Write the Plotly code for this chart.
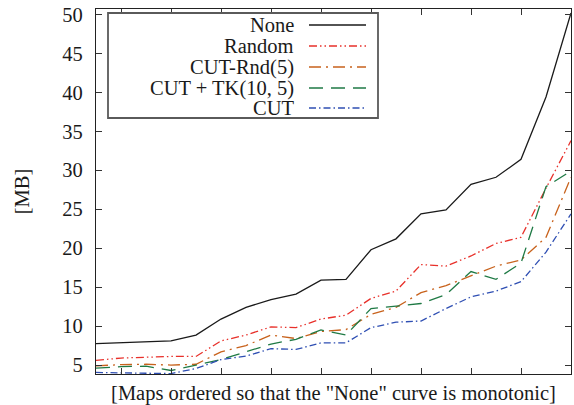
import plotly.graph_objects as go

maps = list(range(1, 21))
none_mb = [7.75, 7.85, 7.95, 8.1, 8.85, 10.9, 12.4, 13.4, 14.1, 15.9, 16.0, 19.8, 21.2, 24.4, 24.9, 28.2, 29.1, 31.4, 39.4, 50.2]
random_mb = [5.6, 5.9, 6.0, 6.1, 6.1, 8.1, 8.85, 9.9, 9.8, 10.9, 11.4, 13.55, 14.5, 17.9, 17.7, 19.0, 20.6, 21.4, 27.7, 33.8]
cutrnd_mb = [4.9, 5.05, 5.1, 5.0, 5.1, 6.7, 7.5, 8.85, 8.4, 9.3, 9.55, 11.5, 12.4, 14.3, 15.2, 16.4, 17.7, 18.5, 21.4, 29.1]
cuttk_mb = [4.6, 4.8, 4.85, 4.3, 5.0, 5.7, 6.7, 7.7, 8.3, 9.5, 8.85, 12.25, 12.55, 12.9, 14.05, 17.0, 16.0, 18.1, 27.9, 29.9]
cut_mb = [4.05, 4.0, 3.95, 3.9, 4.55, 5.7, 6.15, 7.1, 7.0, 7.85, 7.85, 9.8, 10.5, 10.65, 12.25, 13.75, 14.5, 15.7, 19.5, 24.4]

names = ["None", "Random", "CUT-Rnd(5)", "CUT + TK(10, 5)", "CUT"]
series = [none_mb, random_mb, cutrnd_mb, cuttk_mb, cut_mb]
colors = ["#1a1a1a", "#e8302a", "#c8621c", "#1f7a45", "#2f4fb3"]
dashes = ["solid", "8px,3px,1.5px,3px,1.5px,3px", "12px,5px,2px,5px", "14px,8px", "7px,3px,1.5px,3px"]

FONT = "Liberation Serif"
fig = go.Figure()
for n, s, c, d in zip(names, series, colors, dashes):
    fig.add_trace(go.Scatter(x=maps, y=s, mode="lines", name=n, showlegend=False,
                             line=dict(color=c, width=1.3, dash=d)))

# manual gnuplot-style legend (text right, sample on the right)
L, T, B = 96, 9, 374
W, H = 475, 365
def px(x):
    return (x - L) / W
def py(y):
    return (B - y) / H

rows = [25, 46, 67, 88, 108]
shapes = [dict(type="rect", xref="paper", yref="paper", x0=px(108), x1=px(378), y0=py(118), y1=py(13),
               line=dict(color="#5a5a5a", width=1.8), fillcolor="white", layer="above")]
annotations = []
for n, c, d, r in zip(names, colors, dashes, rows):
    shapes.append(dict(type="line", xref="paper", yref="paper", x0=px(309), x1=px(366), y0=py(r), y1=py(r),
                       line=dict(color=c, width=1.3, dash=d), layer="above"))
    annotations.append(dict(text=n, xref="paper", yref="paper", x=px(296), y=py(r), xanchor="right",
                            yanchor="middle", showarrow=False, font=dict(family=FONT, size=20.5, color="#1a1a1a")))

fig.update_layout(
    width=574, height=405,
    margin=dict(l=96, r=3, t=9, b=31, autoexpand=False),
    paper_bgcolor="white", plot_bgcolor="white",
    font=dict(family=FONT, size=20.5, color="#1a1a1a"),
    shapes=shapes, annotations=annotations,
)
fig.update_xaxes(range=[1, 20], tickvals=list(range(2, 21, 2)), showticklabels=False, automargin=False,
                 ticks="inside", ticklen=6, tickcolor="#333", showline=True, linecolor="#222", linewidth=1.3,
                 mirror="ticks", showgrid=False, zeroline=False,
                 title=dict(text='[Maps ordered so that the "None" curve is monotonic]', standoff=15,
                            font=dict(family=FONT, size=20.5)))
fig.update_yaxes(range=[3.85, 50.7], tickvals=list(range(5, 51, 5)), automargin=False,
                 ticks="inside", ticklen=6, tickcolor="#333", showline=True, linecolor="#222", linewidth=1.3,
                 mirror="ticks", showgrid=False, zeroline=False, ticklabelstandoff=8,
                 tickfont=dict(family=FONT, size=20.5),
                 title=dict(text="[MB]", standoff=27, font=dict(family=FONT, size=20.5)))

fig.write_html("out.html", config={"displayModeBar": False},
               post_script="document.body.style.margin='0';document.body.style.overflow='hidden';")
